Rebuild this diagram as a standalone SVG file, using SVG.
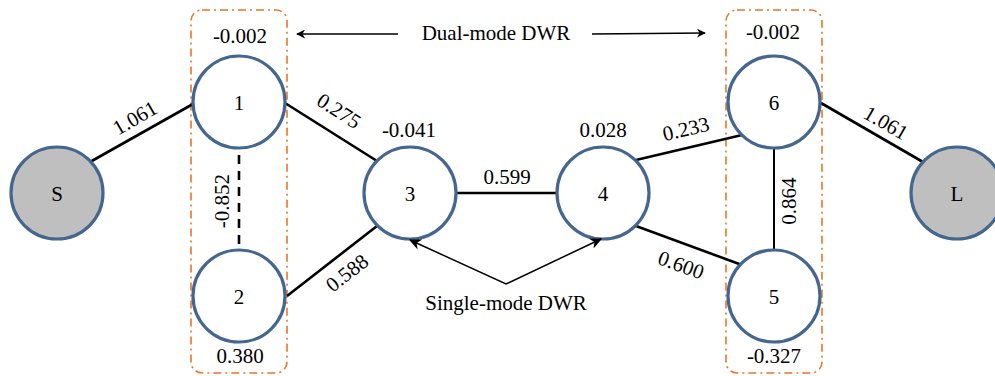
<svg xmlns="http://www.w3.org/2000/svg" width="995" height="376" viewBox="0 0 995 376" font-family="'Liberation Serif', 'DejaVu Serif', 'Times New Roman', serif">
  <style>
    text { font-family: "Liberation Serif", "DejaVu Serif", "Times New Roman", serif; font-size: 21px; fill: #000; }
    .node circle { fill: #fff; stroke: #44668f; stroke-width: 3.2; }
    .node.port circle { fill: #bfbfbf; }
    .node text { text-anchor: middle; dominant-baseline: central; }
    .edge { stroke: #000; stroke-width: 2.6; fill: none; }
    .thin { stroke-width: 2; }
    .dash { stroke-dasharray: 9 7; }
    .group { fill: none; stroke: #e97627; stroke-width: 1.6; stroke-dasharray: 8 4 2 4; }
    .lbl { text-anchor: middle; dominant-baseline: central; }
    .val { text-anchor: middle; }
    .ptr { stroke: #000; stroke-width: 1.5; fill: none; }
  </style>
  <defs>
    <marker id="head" viewBox="0 0 10 10" refX="9" refY="5" markerWidth="9" markerHeight="9" markerUnits="userSpaceOnUse" orient="auto-start-reverse">
      <path d="M0,0 L10,5 L0,10 L3,5 Z" fill="#000"/>
    </marker>
    <marker id="head2" viewBox="0 0 10 10" refX="9" refY="5" markerWidth="12" markerHeight="12" markerUnits="userSpaceOnUse" orient="auto-start-reverse">
      <path d="M0,0.5 L10,5 L0,9.5 L3,5 Z" fill="#000"/>
    </marker>
  </defs>

  <!-- dual-mode resonator groups -->
  <rect class="group" x="191" y="10" width="96" height="363" rx="11"/>
  <rect class="group" x="726" y="10" width="96" height="363" rx="11"/>

  <!-- connectors -->
  <g id="connectors">
    <line class="edge" x1="90" y1="162" x2="193" y2="104"/>
    <line class="edge" x1="285" y1="103" x2="377" y2="161"/>
    <line class="edge" x1="287" y1="296" x2="377" y2="226"/>
    <line class="edge" x1="456" y1="193" x2="557" y2="193"/>
    <line class="edge" x1="636" y1="160" x2="742" y2="135"/>
    <line class="edge" x1="636" y1="226" x2="742" y2="265"/>
    <line class="edge thin" x1="774" y1="148" x2="774" y2="250"/>
    <line class="edge dash" x1="239" y1="155" x2="239" y2="250"/>
    <line class="edge" x1="821" y1="103" x2="923" y2="162"/>
  </g>

  <!-- coupling values -->
  <text class="lbl" transform="translate(135,118) rotate(-30)">1.061</text>
  <text class="lbl" transform="translate(339,111) rotate(33)">0.275</text>
  <text class="lbl" transform="translate(347,273) rotate(-38)">0.588</text>
  <text class="lbl" x="507" y="177">0.599</text>
  <text class="lbl" transform="translate(686,129) rotate(-13)">0.233</text>
  <text class="lbl" transform="translate(681,265) rotate(20)">0.600</text>
  <text class="lbl" transform="translate(789,201) rotate(-90)">0.864</text>
  <text class="lbl" transform="translate(222,201) rotate(-90)">-0.852</text>
  <text class="lbl" transform="translate(886,123) rotate(30)">1.061</text>

  <!-- nodes -->
  <g id="node-S" class="node port"><circle cx="57" cy="193" r="46"/><text x="57" y="194">S</text></g>
  <g id="node-1" class="node"><circle cx="239" cy="102" r="46"/><text x="239" y="103">1</text></g>
  <g id="node-2" class="node"><circle cx="239" cy="296" r="46"/><text x="239" y="297">2</text></g>
  <g id="node-3" class="node"><circle cx="410" cy="193" r="46"/><text x="410" y="194">3</text></g>
  <g id="node-4" class="node"><circle cx="603" cy="193" r="46"/><text x="603" y="194">4</text></g>
  <g id="node-6" class="node"><circle cx="774" cy="102" r="46"/><text x="774" y="103">6</text></g>
  <g id="node-5" class="node"><circle cx="774" cy="296" r="46"/><text x="774" y="297">5</text></g>
  <g id="node-L" class="node port"><circle cx="957" cy="193" r="46"/><text x="957" y="194">L</text></g>

  <!-- resonant frequency offsets -->
  <text class="val" x="240" y="43">-0.002</text>
  <text class="val" x="240" y="363">0.380</text>
  <text class="val" x="409" y="137">-0.041</text>
  <text class="val" x="603" y="137">0.028</text>
  <text class="val" x="773" y="39">-0.002</text>
  <text class="val" x="774" y="363">-0.327</text>

  <!-- annotations -->
  <text class="val" x="496" y="40">Dual-mode DWR</text>
  <line class="ptr" x1="398" y1="34" x2="297" y2="34" marker-end="url(#head)"/>
  <line class="ptr" x1="592" y1="34" x2="705" y2="33" marker-end="url(#head)"/>
  <text class="val" x="506" y="310">Single-mode DWR</text>
  <polyline class="ptr" points="410,240 506,284 601,239" marker-start="url(#head2)" marker-end="url(#head2)"/>
</svg>
